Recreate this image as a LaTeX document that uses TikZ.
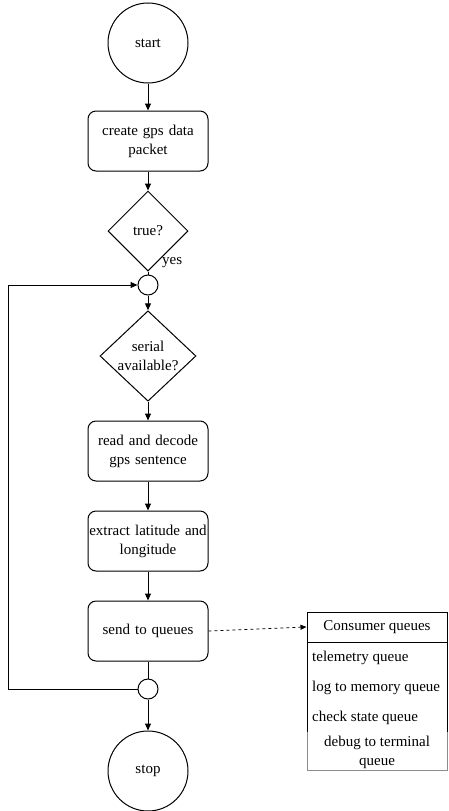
\documentclass[tikz,border=0pt]{standalone}
\usepackage{fontspec}
\setmainfont{Liberation Serif}
\usetikzlibrary{shapes.geometric,arrows.meta,positioning}
\begin{document}
\begin{tikzpicture}[x=1pt,y=-1pt,
  every node/.style={font=\fontsize{15}{19}\selectfont},
  term/.style={circle,draw,minimum size=80pt,inner sep=0pt,line width=1pt},
  junc/.style={circle,draw,minimum size=20pt,inner sep=0pt,line width=1pt},
  proc/.style={rectangle,rounded corners=8pt,draw,minimum width=120pt,minimum height=60pt,align=center,text width=118pt,inner sep=1pt,line width=1pt},
  dec/.style={diamond,draw,inner sep=0pt,align=center,line width=1pt},
  arr/.style={-{Triangle[length=7pt,width=6pt]},line width=1pt},
  ln/.style={line width=1pt}]
\useasboundingbox (0,0) rectangle (448,811);
\node[term] (start) at (148,43) {start};
\node[proc] (create) at (148,141) {create gps data\\packet};
\node[dec,minimum width=80pt,minimum height=80pt] (true) at (148,231) {true?};
\node[junc] (j1) at (148,285) {};
\node[dec,minimum width=96pt,minimum height=90pt] (serial) at (148,356) {serial\\available?};
\node[proc] (read) at (148,451) {read and decode\\gps sentence};
\node[proc] (extract) at (148,541) {extract latitude and\\longitude};
\node[proc] (send) at (148,631) {send to queues};
\node[junc] (j2) at (148,689) {};
\node[term] (stop) at (148,771) {stop};
\node[anchor=west,inner sep=1pt] (yes) at (161,263) {yes};

\draw[arr] (start) -- (create);
\draw[arr] (create) -- (true);
\draw[ln] (true.south) -- (j1);
\draw[arr] (j1) -- (serial.north);
\draw[arr] (serial.south) -- (read);
\draw[arr] (read) -- (extract);
\draw[arr] (extract) -- (send);
\draw[ln] (send) -- (j2);
\draw[arr] (j2) -- (stop);
\coordinate (lb) at (8,689);
\coordinate (lt) at (8,285);
\draw[arr] (j2.west) -- (lb) -- (lt) -- (j1.west);

% consumer queues
\node[draw,line width=1pt,minimum width=140pt,minimum height=30pt,inner sep=0pt] (cq) at (377,627) {Consumer queues};
\draw[line width=1pt] (307,642) -- (307,732);
\draw[line width=1pt] (447,642) -- (447,732);
\node[anchor=west,inner sep=0pt] (q1) at (312,658) {telemetry queue};
\node[anchor=west,inner sep=0pt] (q2) at (312,688) {log to memory queue};
\node[anchor=west,inner sep=0pt] (q3) at (312,718) {check state queue};
\draw[draw=black!45,line width=0.8pt] (307,732) -- (307,770) -- (447,770) -- (447,732);
\node[align=center,inner sep=0pt] (q4) at (377,752) {debug to terminal\\queue};
\draw[dashed,line width=0.7pt,-{Triangle[length=6pt,width=5pt]}] (send.east) -- (cq.west);
\end{tikzpicture}
\end{document}
